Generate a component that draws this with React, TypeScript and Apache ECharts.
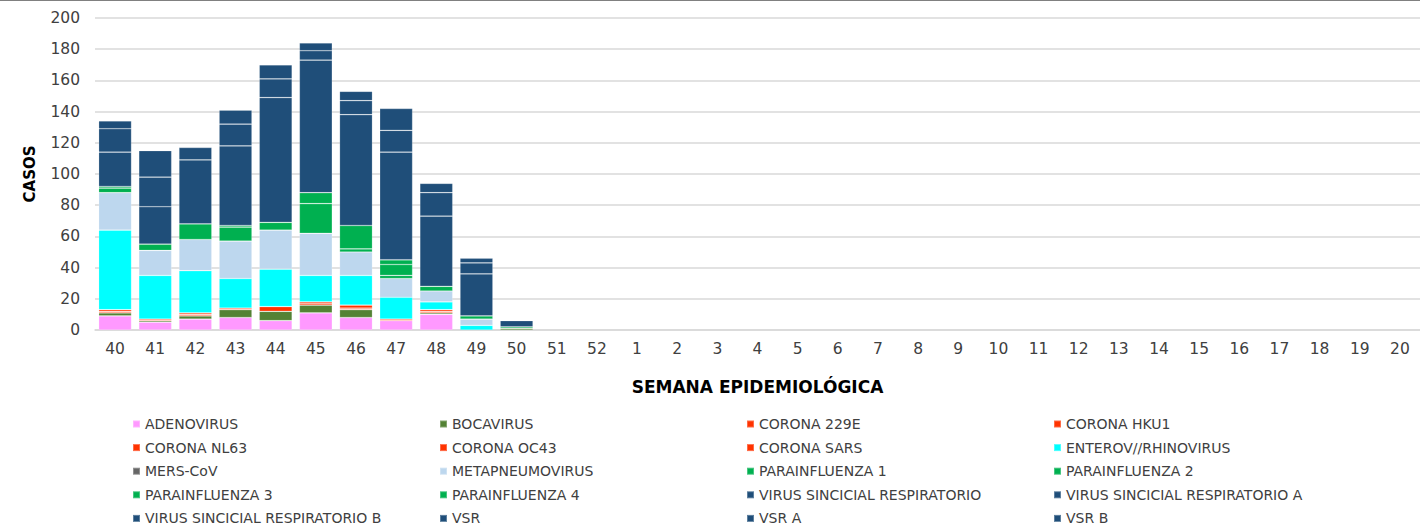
import React, { useEffect, useRef } from "react";
import * as echarts from "echarts";

const weeks = ["40","41","42","43","44","45","46","47","48","49","50","51","52","1","2","3","4","5","6","7","8","9","10","11","12","13","14","15","16","17","18","19","20"];

// values for weeks 40..50 (later weeks have no cases)
const adenovirus = [9, 5, 7, 8, 6, 11, 8, 6, 10, 0, 0];
const bocavirus = [2, 1, 2, 5, 6, 5, 5, 0, 1, 0, 1];
const corona229E = [1, 0, 1, 0, 0, 1, 1, 0, 1, 0, 0];
const coronaHKU1 = [0, 0, 0, 0, 0, 0, 0, 0, 0, 0, 0];
const coronaNL63 = [0, 1, 0, 1, 3, 0, 0, 1, 0, 0, 0];
const coronaOC43 = [1, 0, 1, 0, 0, 1, 2, 0, 1, 0, 0];
const coronaSARS = [0, 0, 0, 0, 0, 0, 0, 0, 0, 0, 0];
const enterovRhino = [51, 28, 27, 19, 24, 17, 19, 14, 5, 3, 0];
const mersCoV = [0, 0, 0, 0, 0, 0, 0, 0, 0, 0, 0];
const metapneumo = [24, 16, 20, 24, 25, 27, 15, 12, 7, 4, 0];
const parainf1 = [3, 4, 10, 9, 5, 19, 2, 2, 3, 2, 1];
const parainf2 = [0, 0, 0, 0, 0, 0, 0, 7, 0, 0, 0];
const parainf3 = [1, 0, 0, 1, 0, 7, 15, 3, 0, 0, 0];
const parainf4 = [0, 0, 0, 0, 0, 0, 0, 0, 0, 0, 0];
const vsrFull = [0, 0, 0, 0, 0, 0, 0, 0, 0, 0, 0];
const vsrFullA = [0, 0, 0, 0, 0, 0, 0, 0, 0, 0, 0];
const vsrFullB = [0, 0, 0, 0, 0, 0, 0, 0, 0, 0, 0];
const vsr = [22, 24, 41, 51, 80, 85, 71, 69, 45, 27, 4];
const vsrA = [15, 19, 0, 14, 12, 6, 9, 14, 15, 7, 0];
const vsrB = [5, 17, 8, 9, 9, 5, 6, 14, 6, 3, 0];

const PINK = "#FF99FF";
const OLIVE = "#548235";
const RED = "#FF3300";
const CYAN = "#00FFFF";
const GRAY = "#666666";
const LIGHTBLUE = "#BDD7EE";
const GREEN = "#00B050";
const NAVY = "#1F4E79";

const seriesDefs: [string, number[], string][] = [
  ["ADENOVIRUS", adenovirus, PINK],
  ["BOCAVIRUS", bocavirus, OLIVE],
  ["CORONA 229E", corona229E, RED],
  ["CORONA HKU1", coronaHKU1, RED],
  ["CORONA NL63", coronaNL63, RED],
  ["CORONA OC43", coronaOC43, RED],
  ["CORONA SARS", coronaSARS, RED],
  ["ENTEROV//RHINOVIRUS", enterovRhino, CYAN],
  ["MERS-CoV", mersCoV, GRAY],
  ["METAPNEUMOVIRUS", metapneumo, LIGHTBLUE],
  ["PARAINFLUENZA 1", parainf1, GREEN],
  ["PARAINFLUENZA 2", parainf2, GREEN],
  ["PARAINFLUENZA 3", parainf3, GREEN],
  ["PARAINFLUENZA 4", parainf4, GREEN],
  ["VIRUS SINCICIAL RESPIRATORIO", vsrFull, NAVY],
  ["VIRUS SINCICIAL RESPIRATORIO A", vsrFullA, NAVY],
  ["VIRUS SINCICIAL RESPIRATORIO B", vsrFullB, NAVY],
  ["VSR", vsr, NAVY],
  ["VSR A", vsrA, NAVY],
  ["VSR B", vsrB, NAVY],
];

const FONT = "DejaVu Sans";
const TEXT = "#404040";

export default function App() {
  const ref = useRef<HTMLDivElement>(null);
  useEffect(() => {
    if (!ref.current) return;
    const chart = echarts.init(ref.current, undefined, { renderer: "svg" });
    chart.setOption({
      animation: false,
      textStyle: { fontFamily: FONT },
      grid: { left: 95, right: 0, top: 18, bottom: 197, containLabel: false },
      xAxis: {
        type: "category",
        data: weeks,
        name: "SEMANA EPIDEMIOLÓGICA",
        nameLocation: "middle",
        nameGap: 48,
        nameTextStyle: { fontFamily: FONT, fontSize: 17, fontWeight: "bold", color: "#000" },
        axisLine: { lineStyle: { color: "#D9D9D9", width: 1.5 } },
        axisTick: { show: false },
        axisLabel: { fontFamily: FONT, fontSize: 15.5, color: TEXT, margin: 11 },
      },
      yAxis: {
        type: "value",
        min: 0,
        max: 200,
        interval: 20,
        name: "CASOS",
        nameLocation: "middle",
        nameGap: 58,
        nameTextStyle: { fontFamily: FONT, fontSize: 15, fontWeight: "bold", color: "#000" },
        axisLine: { show: false },
        axisTick: { show: false },
        axisLabel: { fontFamily: FONT, fontSize: 15.5, color: TEXT, margin: 15 },
        splitLine: { lineStyle: { color: "#D9D9D9", width: 1.5 } },
      },
      legend: {
        left: 132,
        top: 417,
        width: 1260,
        padding: 0,
        itemWidth: 7,
        itemHeight: 7,
        itemGap: 9.6,
        icon: "rect",
        data: seriesDefs.map((d) => d[0]),
        textStyle: {
          fontFamily: FONT,
          fontSize: 14,
          color: TEXT,
          width: 284.4,
          lineHeight: 14,
          overflow: "truncate",
        },
      },
      graphic: [
        {
          type: "line",
          shape: { x1: 0, y1: 0.5, x2: 1420, y2: 0.5 },
          style: { stroke: "#808080", lineWidth: 1 },
        },
      ],
      series: seriesDefs.map(([name, vals, color]) => ({
        name,
        type: "bar",
        stack: "total",
        barCategoryGap: "18%",
        data: vals.map((v) => (v === 0 ? null : v)),
        itemStyle: { color, borderColor: "rgba(255,255,255,0.28)", borderWidth: 0.7 },
        emphasis: { disabled: true },
      })),
    });
    return () => chart.dispose();
  }, []);
  return (
    <div
      ref={ref}
      style={{ position: "absolute", left: 0, top: 0, width: 1420, height: 527 }}
    />
  );
}
